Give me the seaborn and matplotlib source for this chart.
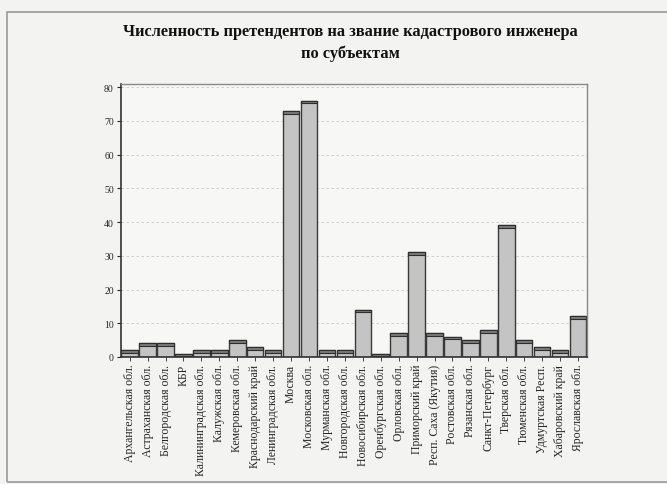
import matplotlib
matplotlib.use("Agg")
import matplotlib.pyplot as plt
import matplotlib.patches as mpatches
import seaborn as sns
import pandas as pd

regions = [
    'Архангельская обл.', 'Астраханская обл.', 'Белгородская обл.', 'КБР',
    'Калининградская обл.', 'Калужская обл.', 'Кемеровская обл.',
    'Краснодарский край', 'Ленинградская обл.', 'Москва', 'Московская обл.',
    'Мурманская обл.', 'Новгородская обл.', 'Новосибирская обл.',
    'Оренбургская обл.', 'Орловская обл.', 'Приморский край',
    'Респ. Саха (Якутия)', 'Ростовская обл.', 'Рязанская обл.',
    'Санкт-Петербург', 'Тверская обл.', 'Тюменская обл.', 'Удмуртская Респ.',
    'Хабаровский край', 'Ярославская обл.',
]
counts = [2, 4, 4, 1, 2, 2, 5, 3, 2, 73, 76, 2, 2, 14, 1, 7, 31, 7, 6, 5, 8,
          39, 5, 3, 2, 12]
y_ticks = [0, 10, 20, 30, 40, 50, 60, 70, 80]

df = pd.DataFrame({'region': regions, 'count': counts})

sns.set_style("white")
plt.rcParams['font.family'] = ['Liberation Serif', 'DejaVu Serif']

fig = plt.figure(figsize=(6.67, 4.85), dpi=100)
fig.patch.set_facecolor('#f3f3f1')

# outer frame of the scanned page
fig.patches.append(mpatches.Rectangle((0.011, 0.004), 1.2, 0.97, transform=fig.transFigure,
                                      fill=False, edgecolor='#9a9a9a', linewidth=1.2))

ax = fig.add_axes([0.181, 0.262, 0.699, 0.563])
ax.set_facecolor('#f7f7f5')

sns.barplot(data=df, x='region', y='count', color='#c4c4c4', edgecolor='#3a3a3a',
            linewidth=1.0, width=0.92, ax=ax, saturation=1)
# darker top cap for the pseudo-3D look
ax.bar(range(len(counts)), [0.8] * len(counts), bottom=[c - 0.8 for c in counts],
       width=0.92, color='#7a7a7a', edgecolor='#2e2e2e', linewidth=0.8)

ax.set_ylim(0, 81)
ax.set_xlim(-0.5, len(regions) - 0.5)
ax.set_yticks(y_ticks)
ax.yaxis.grid(True, linestyle=(0, (3, 3)), color='#c8c8c8', linewidth=0.6)
ax.set_axisbelow(True)
ax.tick_params(axis='y', labelsize=7, length=3, width=0.8, left=True, pad=2)
ax.tick_params(axis='x', labelsize=8.5, length=3, width=0.6, bottom=True, pad=2)
ax.set_xticks(range(len(regions)))
ax.set_xticklabels(regions, rotation=90)
ax.set_xlabel('')
ax.set_ylabel('')
for side in ['top', 'right']:
    ax.spines[side].set_color('#8a8a8a')
    ax.spines[side].set_linewidth(1.0)
ax.spines['left'].set_color('#333333')
ax.spines['bottom'].set_color('#333333')
ax.spines['left'].set_linewidth(1.2)
ax.spines['bottom'].set_linewidth(1.2)

fig.text(0.525, 0.935, 'Численность претендентов на звание кадастрового инженера',
         ha='center', va='center', fontsize=11.8, fontweight='bold', color='#111111')
fig.text(0.525, 0.89, 'по субъектам', ha='center', va='center',
         fontsize=11.8, fontweight='bold', color='#111111')

fig.savefig('out.png', dpi=100, facecolor=fig.get_facecolor())
